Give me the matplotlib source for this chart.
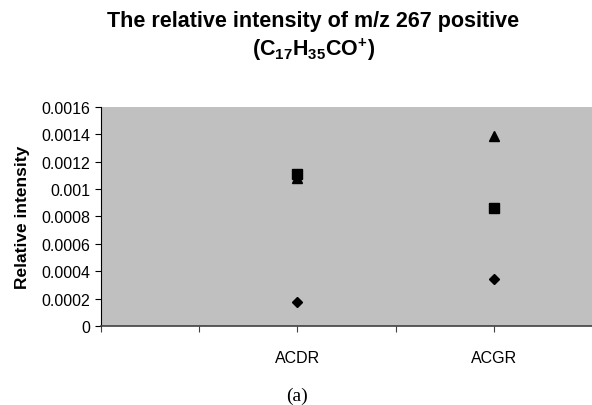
import numpy as np
import matplotlib.pyplot as plt

plt.rcParams['font.family'] = ['Liberation Sans', 'DejaVu Sans']
plt.rcParams['mathtext.fontset'] = 'custom'
plt.rcParams['mathtext.bf'] = 'Liberation Sans:bold'
plt.rcParams['mathtext.rm'] = 'Liberation Sans'

# data
categories = ['ACDR', 'ACGR']
cat_pos = [2, 4]
diamond = [0.000178, 0.000343]
square = [0.00111, 0.00086]
triangle = [0.00108, 0.001385]

yticks = [0, 0.0002, 0.0004, 0.0006, 0.0008, 0.001, 0.0012, 0.0014, 0.0016]
ylabels = ['0', '0.0002', '0.0004', '0.0006', '0.0008', '0.001', '0.0012', '0.0014', '0.0016']

fig = plt.figure(figsize=(5.92, 4.06), dpi=100)
ax = fig.add_axes([0.1706, 0.1946, 0.8294, 0.5394])
ax.set_facecolor('#c0c0c0')

ax.plot(cat_pos, diamond, 'D', color='black', markersize=4.6, linestyle='none')
ax.plot(cat_pos, triangle, '^', color='black', markersize=6.5, linestyle='none')
ax.plot(cat_pos, square, 's', color='black', markersize=6.5, linestyle='none')

ax.set_xlim(0, 5)
ax.set_ylim(0, 0.0016)
ax.set_yticks(yticks)
ax.set_yticklabels(ylabels, fontsize=11.5)
ax.set_xticks([0, 1, 2, 3, 4])
ax.set_xticklabels(['', '', categories[0], '', categories[1]], fontsize=11.5)
ax.tick_params(axis='x', length=4, width=0.8, pad=13, color='#404040')
ax.tick_params(axis='y', length=4, width=0.8, pad=4)
for s in ['top', 'right']:
    ax.spines[s].set_visible(False)
ax.spines['left'].set_color('black')
ax.spines['bottom'].set_color('#404040')
ax.spines['bottom'].set_linewidth(1.2)

ax.set_ylabel('Relative intensity', fontsize=12.5, fontweight='bold', labelpad=8)

fig.text(0.529, 0.946, 'The relative intensity of m/z 267 positive',
         ha='center', va='center', fontsize=15.5, fontweight='bold')
fig.text(0.529, 0.878, r'$\mathbf{(C_{17}H_{35}CO^{+})}$',
         ha='center', va='center', fontsize=15.5)
fig.text(0.502, 0.025, '(a)', ha='center', va='center', fontsize=14,
         family='Liberation Serif')

fig.savefig('out.png', dpi=100)
